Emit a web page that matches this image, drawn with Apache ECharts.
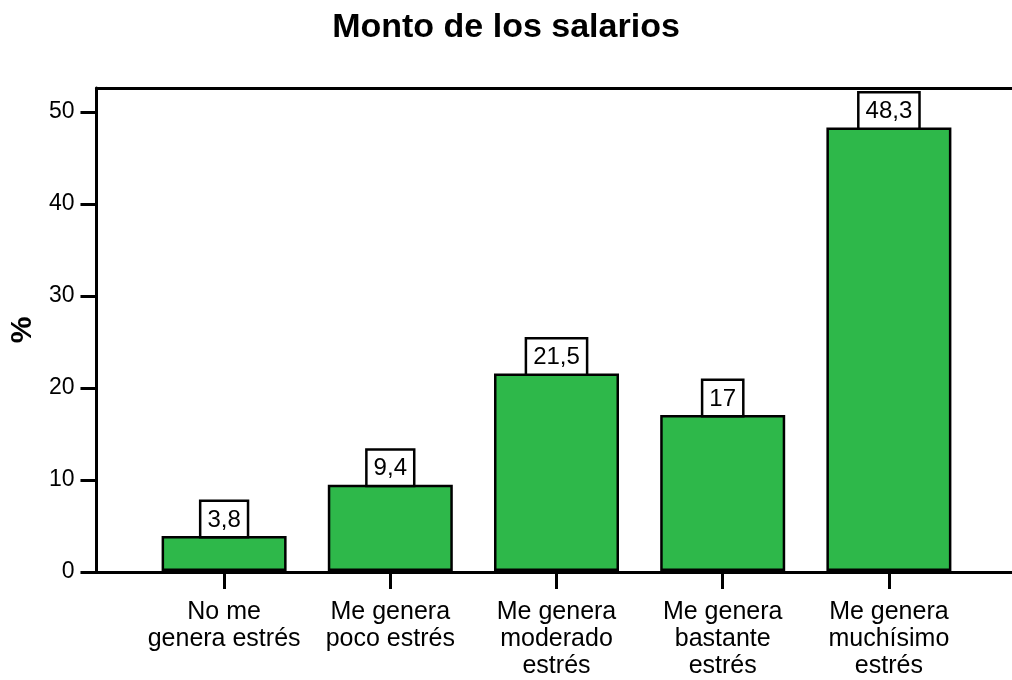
<!DOCTYPE html>
<html>
<head>
<meta charset="utf-8">
<script src="https://cdn.jsdelivr.net/npm/echarts@6/dist/echarts.min.js"></script>
<style>
  html, body { margin: 0; padding: 0; background: #fff; }
  #chart { width: 1012px; height: 680px; }
</style>
</head>
<body>
<div id="chart"></div>
<script>
var categories = [
  'No me\ngenera estrés',
  'Me genera\npoco estrés',
  'Me genera\nmoderado\nestrés',
  'Me genera\nbastante\nestrés',
  'Me genera\nmuchísimo\nestrés'
]
var percentages = [3.8, 9.4, 21.5, 17, 48.3]
var yTicks = [0, 10, 20, 30, 40, 50]

var font = 'Liberation Sans, Arial, sans-serif'
var yMax = 52.6
var blackLine = { color: '#000', width: 3 }

var chart = echarts.init(document.getElementById('chart'))
chart.setOption({
  animation: false,
  title: {
    text: 'Monto de los salarios',
    left: 'center',
    top: 6,
    textStyle: { fontFamily: font, fontSize: 34, fontWeight: 'bold', color: '#000' }
  },
  grid: [
    // frame: left axis plus top and bottom lines running to the right edge
    { left: 94, right: 0, top: 88, bottom: 108 },
    // bars
    { left: 141, right: 40, top: 88, bottom: 108 }
  ],
  xAxis: [
    {
      gridIndex: 0, type: 'value', min: 0, max: 1, position: 'bottom',
      axisLine: { show: true, lineStyle: blackLine },
      axisTick: { show: false }, axisLabel: { show: false }, splitLine: { show: false }
    },
    {
      gridIndex: 0, type: 'value', min: 0, max: 1, position: 'top',
      axisLine: { show: true, lineStyle: blackLine },
      axisTick: { show: false }, axisLabel: { show: false }, splitLine: { show: false }
    },
    {
      gridIndex: 1,
      type: 'category',
      data: categories,
      axisLine: { show: false },
      axisTick: { show: true, alignWithLabel: true, length: 18, lineStyle: blackLine },
      axisLabel: {
        interval: 0,
        margin: 28,
        color: '#000',
        fontFamily: font,
        fontSize: 25,
        lineHeight: 27,
        verticalAlign: 'top'
      }
    }
  ],
  yAxis: [
    {
      gridIndex: 0,
      type: 'value',
      min: 0,
      max: yMax,
      name: '%',
      nameLocation: 'middle',
      nameGap: 54,
      nameTextStyle: { fontFamily: font, fontSize: 30, fontWeight: 'bold', color: '#000' },
      splitLine: { show: false },
      axisLine: { show: true, lineStyle: blackLine },
      axisTick: { show: true, length: 16, customValues: yTicks, lineStyle: blackLine },
      axisLabel: { customValues: yTicks, margin: 22, color: '#000', fontFamily: font, fontSize: 23 }
    },
    { gridIndex: 1, type: 'value', min: 0, max: yMax, show: false, splitLine: { show: false } }
  ],
  series: [
    {
      type: 'bar',
      xAxisIndex: 2,
      yAxisIndex: 1,
      data: percentages,
      barWidth: 125,
      itemStyle: { color: '#2EB84A', borderColor: '#000', borderWidth: 2.5 },
      label: {
        show: true,
        position: 'top',
        distance: 0,
        formatter: function (p) { return String(p.value).replace('.', ',') },
        color: '#000',
        fontFamily: font,
        fontSize: 24,
        lineHeight: 28,
        backgroundColor: '#fff',
        borderColor: '#000',
        borderWidth: 2.5,
        padding: [4, 6, 2, 6]
      }
    }
  ]
})
</script>
</body>
</html>
